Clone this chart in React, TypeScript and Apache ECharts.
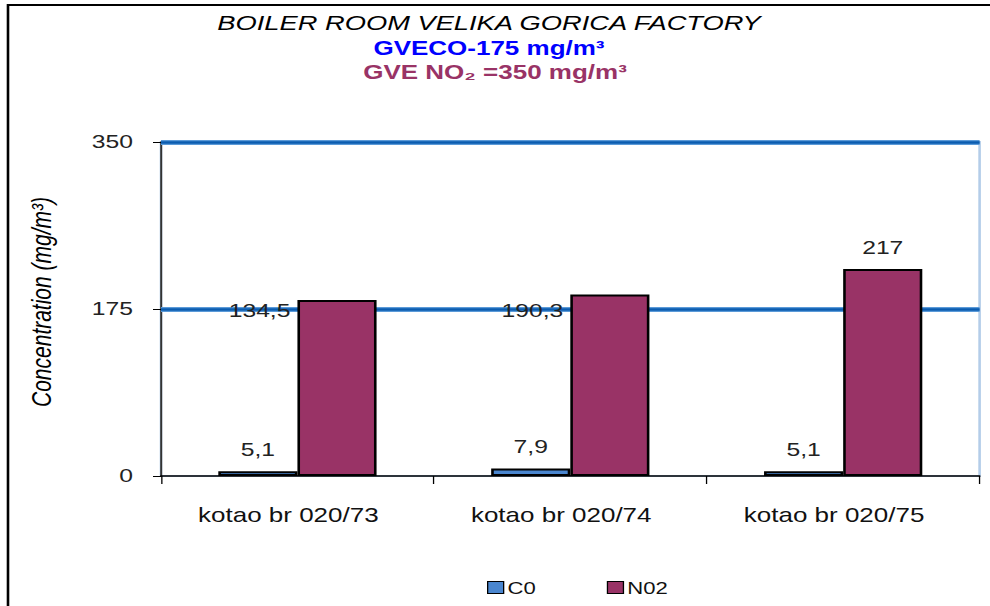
import React, { useEffect, useRef } from "react";
import * as echarts from "echarts";

const categories = ["kotao br 020/73", "kotao br 020/74", "kotao br 020/75"];
const coValues = [5.1, 7.9, 5.1];
const no2Values = [184.5, 190.3, 217];
const no2Labels = ["134,5", "190,3", "217"];
const limitValues = [175, 350];
const yTicks = { min: 0, max: 350, interval: 175 };

const FONT = 'Arial, "Liberation Sans", sans-serif';
// The reference image is horizontally stretched; render narrower and stretch.
const S = 1.3;
const W = 990 / S;
const X = (px: number) => px / S;

export default function App() {
  const ref = useRef<HTMLDivElement>(null);
  useEffect(() => {
    if (!ref.current) return;
    const chart = echarts.init(ref.current, null, { renderer: "svg" });
    const no2LabelPos: any[] = [
      { position: [-X(7), 11], align: "right", verticalAlign: "middle" },
      { position: [-X(7), 16], align: "right", verticalAlign: "middle" },
      { position: "top", distance: 12 },
    ];
    const limitLines: any[] = [];
    limitValues.forEach((v) => {
      limitLines.push({ yAxis: v, lineStyle: { color: "#5b9ad8", width: 5, type: "solid" } });
    });
    limitValues.forEach((v) => {
      limitLines.push({ yAxis: v, lineStyle: { color: "#0b5cb0", width: 2.5, type: "solid" } });
    });
    chart.setOption({
      animation: false,
      backgroundColor: "#ffffff",
      textStyle: { fontFamily: FONT },
      graphic: [
        {
          type: "rect",
          shape: { x: X(8), y: 5, width: 1000, height: 700 },
          style: { fill: "none", stroke: "#000", lineWidth: 2 },
          silent: true,
          z: 100,
        },
        {
          type: "text",
          style: {
            text: "BOILER ROOM VELIKA GORICA FACTORY",
            x: X(489),
            y: 23,
            align: "center",
            verticalAlign: "middle",
            fill: "#000",
            font: `italic normal 21px ${FONT}`,
          },
        },
        {
          type: "text",
          style: {
            text: "GVECO-175 mg/m³",
            x: X(489),
            y: 48,
            align: "center",
            verticalAlign: "middle",
            fill: "#0000ff",
            font: `normal bold 20px ${FONT}`,
          },
        },
        {
          type: "text",
          style: {
            text: "GVE NO₂ =350 mg/m³",
            x: X(495),
            y: 72,
            align: "center",
            verticalAlign: "middle",
            fill: "#993366",
            font: `normal bold 20px ${FONT}`,
          },
        },
      ],
      legend: {
        left: X(487) - 5,
        top: 574,
        itemWidth: X(16),
        itemHeight: 12,
        itemGap: X(71),
        icon: "rect",
        itemStyle: { borderColor: "#000", borderWidth: 1 },
        textStyle: { fontSize: 17, color: "#111", fontFamily: FONT, padding: [0, 0, 0, -2] },
        data: ["C0", "N02"],
      },
      grid: {
        left: X(161),
        right: W - X(979),
        top: 142,
        bottom: 130,
        show: true,
        borderColor: "#b4cde9",
        borderWidth: 2,
        backgroundColor: "#ffffff",
      },
      xAxis: {
        type: "category",
        data: categories,
        axisLine: { lineStyle: { color: "#000", width: 1.5 } },
        axisTick: { show: true, length: 8, lineStyle: { color: "#000" } },
        axisLabel: {
          fontSize: 20,
          color: "#111",
          margin: 29,
          fontFamily: FONT,
          padding: [0, 14, 0, 0],
        },
      },
      yAxis: {
        type: "value",
        min: yTicks.min,
        max: yTicks.max,
        interval: yTicks.interval,
        name: "Concentration (mg/m³)",
        nameLocation: "middle",
        nameGap: X(161) - X(43) - 9,
        nameTextStyle: {
          fontStyle: "italic",
          fontSize: 21,
          color: "#000",
          fontFamily: FONT,
          padding: [0, 0, 0, 14],
        },
        axisLine: { show: true, lineStyle: { color: "#333", width: 1.5 } },
        axisTick: { show: true, length: X(8), lineStyle: { color: "#000" } },
        axisLabel: { fontSize: 19, color: "#222", margin: X(161) - X(133), fontFamily: FONT },
        splitLine: { show: false },
      },
      series: [
        {
          name: "C0",
          type: "bar",
          data: coValues,
          barGap: "0%",
          barCategoryGap: "42%",
          itemStyle: { color: "#4a86cf", borderColor: "#000", borderWidth: 2 },
          label: {
            show: true,
            position: "top",
            distance: 12,
            fontSize: 19,
            color: "#222",
            fontFamily: FONT,
            formatter: (p: any) => String(coValues[p.dataIndex]).replace(".", ","),
          },
          markLine: {
            silent: true,
            symbol: "none",
            label: { show: false },
            data: limitLines,
            z: 1,
          },
          z: 3,
        },
        {
          name: "N02",
          type: "bar",
          data: no2Values.map((v, i) => ({
            value: v,
            label: {
              show: true,
              fontSize: 19,
              color: "#222",
              fontFamily: FONT,
              formatter: no2Labels[i],
              ...no2LabelPos[i],
            },
          })),
          itemStyle: { color: "#993366", borderColor: "#000", borderWidth: 2 },
          z: 3,
        },
      ],
    });
    return () => chart.dispose();
  }, []);
  return (
    <div
      ref={ref}
      style={{
        position: "fixed",
        left: 0,
        top: 0,
        width: W,
        height: 606,
        transform: `scaleX(${S})`,
        transformOrigin: "0 0",
      }}
    />
  );
}
